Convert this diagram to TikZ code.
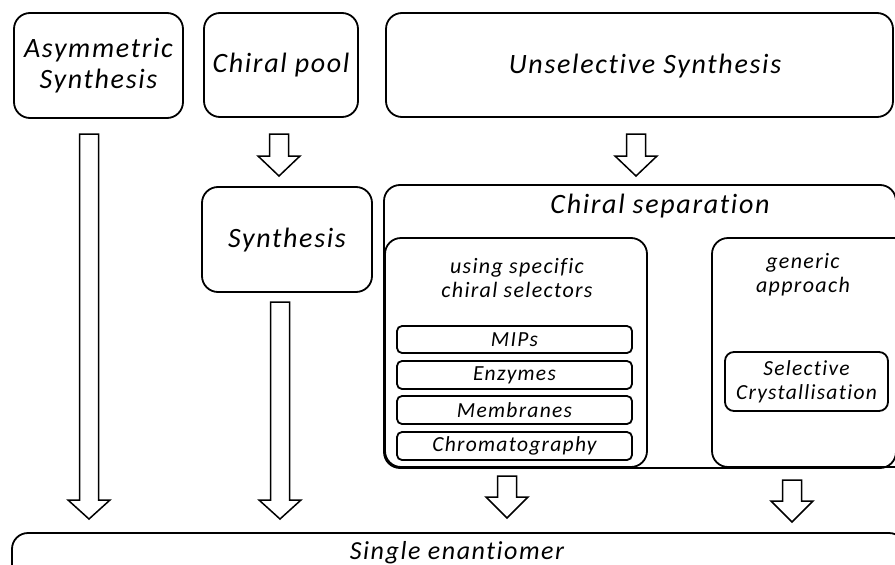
\documentclass[tikz,border=0pt]{standalone}
\usepackage{fontspec}
\setmainfont{Carlito}
\newfontfamily\labfont[LetterSpace=6,Ligatures=NoCommon]{Carlito}
\usetikzlibrary{calc}
\tikzset{
  box/.style={draw, line width=1.8pt, rounded corners=16pt, inner sep=0pt},
  smallbox/.style={draw, line width=1.8pt, rounded corners=5pt, inner sep=0pt},
  lab/.style={font=\labfont\itshape\fontsize{28}{31}\selectfont, align=center},
  midlab/.style={font=\labfont\itshape\fontsize{22}{24}\selectfont, align=center},
  smalllab/.style={font=\labfont\itshape\fontsize{21.5}{24}\selectfont, align=center},
  barrow/.style={draw, line width=1.5pt, fill=white, line join=miter}
}
% block arrow: center x, top y, head start y, tip y
\newcommand\blockarr[4]{%
  \draw[barrow] (#1-9.5,#2) -- (#1+9.5,#2) -- (#1+9.5,#3) -- (#1+21,#3) -- (#1,#4)
    -- (#1-21,#3) -- (#1-9.5,#3) -- cycle;}
\begin{document}
\begin{tikzpicture}[x=1pt,y=-1pt]
\useasboundingbox (0,0) rectangle (895,565);
\clip (0,0) rectangle (895,565);
% top boxes
\draw[box] (14,13) rectangle (183,118);
\node[lab] (asym) at (98.5,66) {Asymmetric\\Synthesis};
\draw[box] (204,13) rectangle (358,117);
\node[lab] (pool) at (281,65) {Chiral pool};
\draw[box] (386,13) rectangle (893,117);
\node[lab] (unsel) at (645,66) {Unselective Synthesis};
% synthesis
\draw[box] (202,187) rectangle (372,292);
\node[lab] (syn) at (287,240) {Synthesis};
% chiral separation
\draw[box] (384,185) rectangle (896,468);
\node[lab] (sep) at (660,206) {Chiral separation};
\draw[box] (385,238) rectangle (647,467);
\node[midlab] (spec) at (517,278) {using specific\\chiral selectors};
\draw[smallbox] (397,326) rectangle (632,353);
\node[smalllab] (mips) at (514.5,340) {MIPs};
\draw[smallbox] (397,361) rectangle (632,389);
\node[smalllab] (enz) at (514.5,375) {Enzymes};
\draw[smallbox] (397,396) rectangle (632,424);
\node[smalllab] (mem) at (514.5,410) {Membranes};
\draw[smallbox] (397,432) rectangle (632,460);
\node[smalllab] (chrom) at (514.5,446) {Chromatography};
\draw[box] (712,238) rectangle (910,467);
\node[midlab] (gen) at (803,275) {generic\\approach};
\draw[box, rounded corners=9pt] (725,352) rectangle (888,411);
\node[smalllab] (cryst) at (806.5,382) {Selective\\Crystallisation};
% bottom
\draw[box] (12,533) rectangle (905,600);
\node[lab, font=\labfont\itshape\fontsize{26}{30}\selectfont] (single) at (457,553) {Single enantiomer};
% arrows
\blockarr{89}{134}{500}{519}
\blockarr{279}{134}{156}{176}
\blockarr{636}{134}{156}{176}
\blockarr{280}{302}{500}{519}
\blockarr{507}{476}{497}{518}
\blockarr{792}{480}{501}{522}
\end{tikzpicture}
\end{document}
